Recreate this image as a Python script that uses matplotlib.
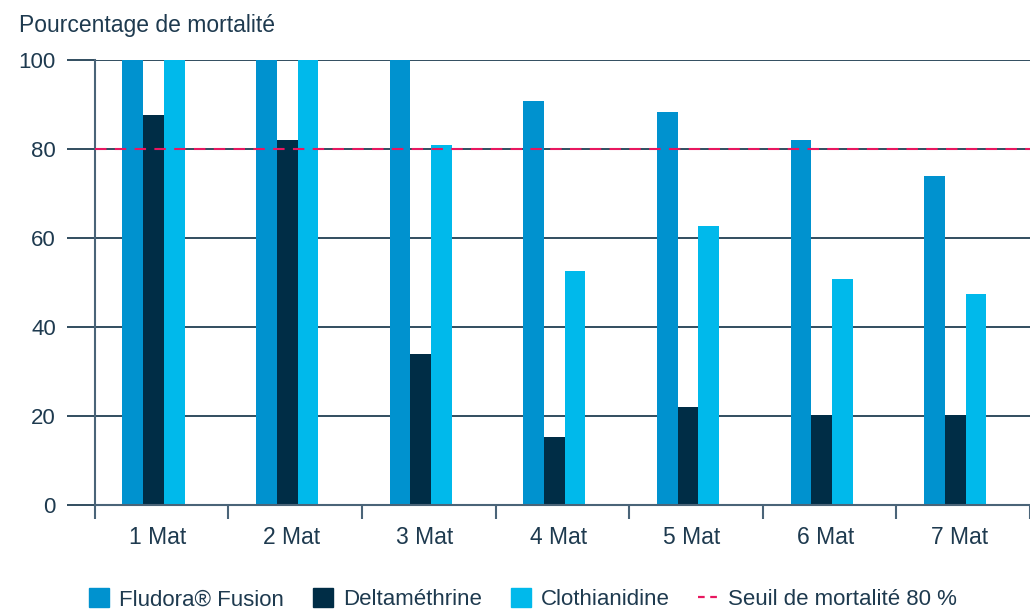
import matplotlib
matplotlib.use("Agg")
import matplotlib.pyplot as plt
import numpy as np
from matplotlib.patches import Patch
from matplotlib.lines import Line2D

# data
categories = ["1 Mat", "2 Mat", "3 Mat", "4 Mat", "5 Mat", "6 Mat", "7 Mat"]
fludora = [100, 100, 100, 90.8, 88.3, 82.0, 73.9]
delta = [87.6, 82.0, 33.9, 15.3, 22.0, 20.2, 20.2]
clothia = [100, 100, 80.9, 52.6, 62.7, 50.8, 47.4]
threshold = 80
yticks = [0, 20, 40, 60, 80, 100]

c_flu = "#0092CF"
c_del = "#002D46"
c_clo = "#00B9EB"
c_red = "#E8175F"
c_txt = "#1E3A4F"
c_grid = "#0E2F44"
c_axis = "#4A6478"

plt.rcParams['font.family'] = ['Liberation Sans', 'DejaVu Sans']

fig = plt.figure(figsize=(10.30, 6.09), dpi=100)
ax = fig.add_axes([0.092, 0.171, 0.908, 0.730])

x = np.arange(len(categories))
w = 0.155
off = -0.06
ax.bar(x + off - w, fludora, w, color=c_flu, zorder=3)
ax.bar(x + off, delta, w, color=c_del, zorder=3)
ax.bar(x + off + w, clothia, w, color=c_clo, zorder=3)

ax.axhline(threshold, color=c_red, lw=1.5, ls=(0, (5.5, 4)), zorder=4)

ax.set_xlim(-0.5, len(categories) - 0.5)
ax.set_ylim(0, 100)

# y ticks and grid
ax.set_yticks(yticks)
ax.set_yticklabels([str(v) for v in yticks])
ax.tick_params(axis='y', length=20, width=1.2, color=c_grid, labelsize=16,
               labelcolor=c_txt, pad=8)
for v in yticks[1:]:
    ax.axhline(v, color=c_grid, lw=1.2, zorder=1)

# x ticks at boundaries, labels between
ax.set_xticks(np.arange(len(categories) + 1) - 0.5)
ax.set_xticklabels([])
ax.set_xticks(x - 0.03, minor=True)
ax.set_xticklabels(categories, minor=True)
ax.tick_params(axis='x', which='major', length=10, width=1.5, color=c_axis)
ax.tick_params(axis='x', which='minor', length=0, labelsize=16.5,
               labelcolor=c_txt, pad=15)

for s in ['top', 'right']:
    ax.spines[s].set_visible(False)
ax.spines['left'].set_color(c_axis)
ax.spines['left'].set_linewidth(1.5)
ax.spines['bottom'].set_color(c_axis)
ax.spines['bottom'].set_linewidth(1.5)
ax.spines['bottom'].set_zorder(5)
# y tick at 0 drawn grey like the base line
ax.yaxis.get_major_ticks()[0].tick1line.set_color(c_axis)

fig.text(0.018, 0.958, "Pourcentage de mortalité", fontsize=16.5,
         color=c_txt, va='center', ha='left')

handles = [
    Patch(color=c_flu, label="Fludora® Fusion"),
    Patch(color=c_del, label="Deltaméthrine"),
    Patch(color=c_clo, label="Clothianidine"),
    Line2D([0], [0], color=c_red, lw=1.6, ls=(0, (3, 2.5)),
           label="Seuil de mortalité 80 %"),
]
leg = fig.legend(handles=handles, loc='lower left', bbox_to_anchor=(0.067, -0.035),
                 ncol=4, frameon=False, fontsize=16, handlelength=0.9,
                 handleheight=0.9, handletextpad=0.45, columnspacing=1.3)
for t in leg.get_texts():
    t.set_color(c_txt)

fig.savefig("out.png", dpi=100)
